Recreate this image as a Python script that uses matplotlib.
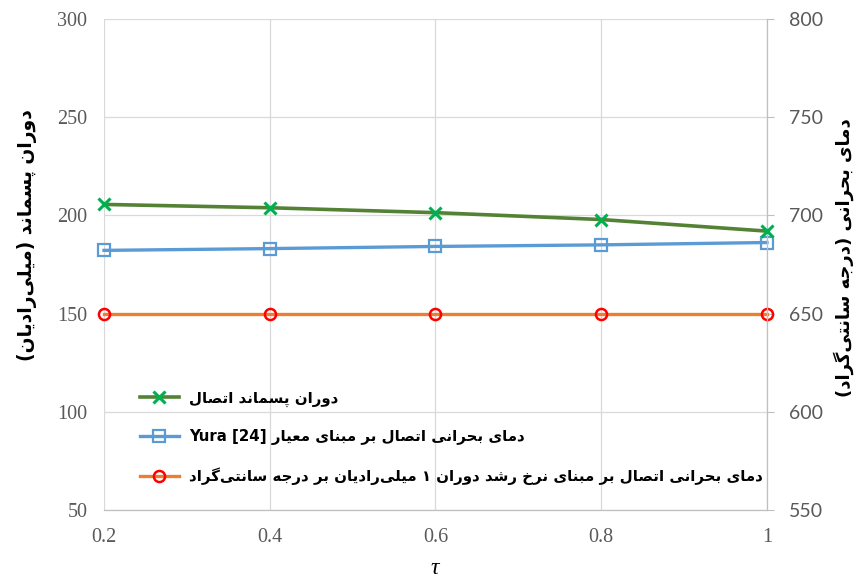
import re
import matplotlib
matplotlib.use("Agg")
import matplotlib.pyplot as plt

# ---------------- data ----------------
tau = [0.2, 0.4, 0.6, 0.8, 1.0]
residual_rotation = [205.6, 203.9, 201.4, 197.9, 192.0]      # left axis (mrad)
crit_temp_yura = [682.2, 683.1, 684.2, 685.0, 686.2]         # right axis (deg C)
crit_temp_rate = [650, 650, 650, 650, 650]                   # right axis (deg C)

left_ticks = [50, 100, 150, 200, 250, 300]
right_ticks = [550, 600, 650, 700, 750, 800]
x_ticks = [0.2, 0.4, 0.6, 0.8, 1.0]
x_ticklabels = ["0.2", "0.4", "0.6", "0.8", "1"]

label_rotation = "دوران پسماند اتصال"
label_yura = "دمای بحرانی اتصال بر مبنای معیار Yura [24]"
label_rate = "دمای بحرانی اتصال بر مبنای نرخ رشد دوران ۱ میلی‌رادیان بر درجه سانتی‌گراد"
ylabel_left = "دوران پسماند (میلی‌رادیان)"
ylabel_right = "دمای بحرانی (درجه سانتی‌گراد)"
xlabel = "τ"

# ---------------- minimal Persian shaping (display only) ----------------
FORMS = {  # isolated, final, initial, medial
    'ا': ('\uFE8D', '\uFE8E', None, None),
    'ب': ('\uFE8F', '\uFE90', '\uFE91', '\uFE92'),
    'پ': ('\uFB56', '\uFB57', '\uFB58', '\uFB59'),
    'ت': ('\uFE95', '\uFE96', '\uFE97', '\uFE98'),
    'ج': ('\uFE9D', '\uFE9E', '\uFE9F', '\uFEA0'),
    'ح': ('\uFEA1', '\uFEA2', '\uFEA3', '\uFEA4'),
    'خ': ('\uFEA5', '\uFEA6', '\uFEA7', '\uFEA8'),
    'د': ('\uFEA9', '\uFEAA', None, None),
    'ر': ('\uFEAD', '\uFEAE', None, None),
    'ز': ('\uFEAF', '\uFEB0', None, None),
    'س': ('\uFEB1', '\uFEB2', '\uFEB3', '\uFEB4'),
    'ش': ('\uFEB5', '\uFEB6', '\uFEB7', '\uFEB8'),
    'ص': ('\uFEB9', '\uFEBA', '\uFEBB', '\uFEBC'),
    'ع': ('\uFEC9', '\uFECA', '\uFECB', '\uFECC'),
    'ک': ('\uFB8E', '\uFB8F', '\uFB90', '\uFB91'),
    'گ': ('\uFB92', '\uFB93', '\uFB94', '\uFB95'),
    'ل': ('\uFEDD', '\uFEDE', '\uFEDF', '\uFEE0'),
    'م': ('\uFEE1', '\uFEE2', '\uFEE3', '\uFEE4'),
    'ن': ('\uFEE5', '\uFEE6', '\uFEE7', '\uFEE8'),
    'ه': ('\uFEE9', '\uFEEA', '\uFEEB', '\uFEEC'),
    'و': ('\uFEED', '\uFEEE', None, None),
    'ی': ('\uFBFC', '\uFBFD', '\uFBFE', '\uFBFF'),
}
MIRROR = {'(': ')', ')': '(', '[': ']', ']': '['}


def shape(s):
    out = []
    n = len(s)
    for i, c in enumerate(s):
        if c not in FORMS:
            if c != '\u200c':
                out.append(c)
            continue
        prev = s[i - 1] if i > 0 else ''
        nxt = s[i + 1] if i + 1 < n else ''
        pj = prev in FORMS and FORMS[prev][2] is not None
        nj = FORMS[c][2] is not None and nxt in FORMS
        f = FORMS[c]
        if pj and nj:
            out.append(f[3])
        elif pj:
            out.append(f[1])
        elif nj:
            out.append(f[2])
        else:
            out.append(f[0])
    return ''.join(out)


LTR = re.compile(r'[A-Za-z0-9][A-Za-z0-9 \[\]\.]*[A-Za-z0-9\]]')


def visual(s):
    sh = shape(s)
    parts = []
    pos = 0
    for m in LTR.finditer(sh):
        if m.start() > pos:
            parts.append(('R', sh[pos:m.start()]))
        parts.append(('L', m.group()))
        pos = m.end()
    if pos < len(sh):
        parts.append(('R', sh[pos:]))
    res = []
    for kind, t in reversed(parts):
        if kind == 'R':
            res.append(''.join(MIRROR.get(ch, ch) for ch in reversed(t)))
        else:
            res.append(t)
    return ''.join(res).strip()


# ---------------- figure ----------------
fig = plt.figure(figsize=(8.61, 5.80), dpi=100)
fig.patch.set_facecolor('white')
ax2 = fig.add_axes([0.1208, 0.1207, 0.7700, 0.8465])
ax = fig.add_axes(ax2.get_position(), sharex=ax2)
ax.set_zorder(ax2.get_zorder() + 1)
ax.patch.set_visible(False)

# right axis (drawn beneath)
ax2.yaxis.tick_right()
ax2.yaxis.set_label_position('right')
ax2.set_ylim(550, 800)
ax2.set_yticks(right_ticks)
ax2.set_xlim(0.2, 1.0)
ax2.set_xticks(x_ticks)
ax2.grid(True, color='#D9D9D9', linewidth=0.9)
ax2.set_axisbelow(True)
for sp in ['left', 'top']:
    ax2.spines[sp].set_visible(False)
ax2.spines['right'].set_color('#BFBFBF')
ax2.spines['bottom'].set_color('#BFBFBF')
ax2.spines['right'].set_linewidth(0.9)
ax2.spines['bottom'].set_linewidth(0.9)
ax2.tick_params(axis='y', which='both', right=True, length=5, color='#BFBFBF',
                labelcolor='#595959', labelsize=14, pad=11)
ax2.tick_params(axis='x', length=0, labelbottom=False)
for lab in ax2.get_yticklabels():
    lab.set_family('Lato')

l_yura, = ax2.plot(tau, crit_temp_yura, color='#5B9BD5', linewidth=2.4,
                   marker='s', markersize=8, markerfacecolor='none',
                   markeredgecolor='#5B9BD5', markeredgewidth=1.6, clip_on=False)
l_rate, = ax2.plot(tau, crit_temp_rate, color='#ED7D31', linewidth=2.4,
                   marker='o', markersize=8, markerfacecolor='none',
                   markeredgecolor='#FF0000', markeredgewidth=1.8, clip_on=False)

# left axis (on top)
ax.set_ylim(50, 300)
ax.set_yticks(left_ticks)
ax.set_xlim(0.2, 1.0)
ax.set_xticks(x_ticks)
ax.set_xticklabels(x_ticklabels)
for sp in ax.spines.values():
    sp.set_visible(False)
ax.tick_params(axis='y', length=0, labelcolor='#595959', labelsize=14.5, pad=12)
ax.tick_params(axis='x', length=0, labelcolor='#595959', labelsize=14.5, pad=13)
for lab in ax.get_yticklabels() + ax.get_xticklabels():
    lab.set_family('Liberation Serif')

l_rot, = ax.plot(tau, residual_rotation, color='#548235', linewidth=2.6,
                 marker='x', markersize=9, markeredgecolor='#00B050',
                 markeredgewidth=2.2, clip_on=False)

fa = ['DejaVu Sans']
ax.set_ylabel(visual(ylabel_left), family=fa, fontweight='bold', fontsize=13.5,
              color='#000000')
ax.yaxis.set_label_coords(-0.101, 0.56)
ax2.set_ylabel(visual(ylabel_right), family=fa, fontweight='bold', fontsize=13,
               color='#000000', rotation=90)
ax2.yaxis.set_label_coords(1.0995, 0.515)
ax.set_xlabel(xlabel, family='Liberation Serif', style='italic', fontsize=17)
ax.xaxis.set_label_coords(0.499, -0.098)

leg = ax.legend([l_rot, l_yura, l_rate],
                [visual(label_rotation), visual(label_yura), visual(label_rate)],
                loc='center left', bbox_to_anchor=(0.054, 0.1466),
                frameon=False, borderpad=0, borderaxespad=0,
                handlelength=2.6, handletextpad=0.7, labelspacing=1.5,
                prop={'family': fa, 'weight': 'bold', 'size': 10.8})

fig.savefig('out.png', dpi=100, facecolor='white')
